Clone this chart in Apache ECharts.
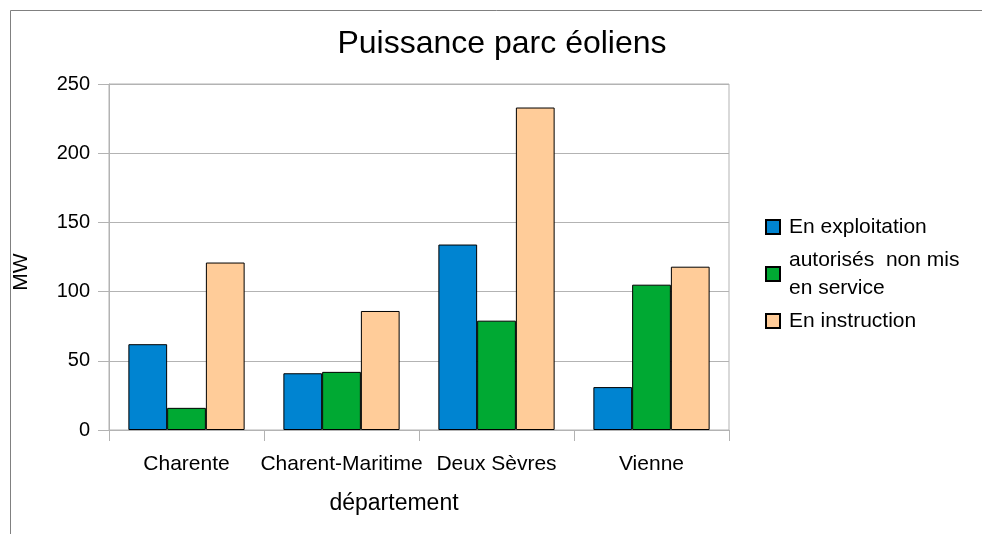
<!DOCTYPE html>
<html>
<head>
<meta charset="utf-8">
<script src="https://cdn.jsdelivr.net/npm/echarts@6/dist/echarts.min.js"></script>
<style>
html,body{margin:0;padding:0;background:#fff;}
#c{width:982px;height:534px;}
</style>
</head>
<body>
<div id="c"></div>
<script>
const categories = ['Charente', 'Charent-Maritime', 'Deux Sèvres', 'Vienne'];
const seriesNames = ['En exploitation', 'autorisés  non mis\nen service', 'En instruction'];
const exploitation = [62, 41, 134, 31];
const autorises = [16, 42, 79, 105];
const instruction = [121, 86, 233, 118];
const yTicks = [0, 50, 100, 150, 200, 250];
const colors = ['#0084d1', '#00a933', '#ffcc99'];

const FONT = '"Liberation Sans", Arial, sans-serif';
const chart = echarts.init(document.getElementById('c'));
const values = [exploitation, autorises, instruction];

chart.setOption({
  animation: false,
  backgroundColor: '#fff',
  textStyle: { fontFamily: FONT, color: '#000' },
  title: {
    text: 'Puissance parc éoliens',
    left: 497,
    textAlign: 'center',
    top: 23,
    textStyle: { fontFamily: FONT, fontSize: 32, fontWeight: 'normal', color: '#000' }
  },
  legend: {
    orient: 'vertical',
    left: 760,
    top: 208,
    itemWidth: 14,
    itemHeight: 14,
    itemGap: 5,
    icon: 'rect',
    textStyle: { fontFamily: FONT, fontSize: 21, color: '#000', lineHeight: 28, padding: [0, 0, 0, 4] },
    data: seriesNames
  },
  grid: {
    left: 109, right: 253, top: 84, bottom: 104,
    show: true, borderColor: '#b3b3b3', borderWidth: 1
  },
  xAxis: {
    type: 'category',
    data: categories,
    name: 'département',
    nameLocation: 'middle',
    nameGap: 62,
    nameTextStyle: { fontFamily: FONT, fontSize: 23, color: '#000', padding: [0, 50, 0, 0] },
    axisLine: { lineStyle: { color: '#b3b3b3' } },
    axisTick: { show: true, length: 11, lineStyle: { color: '#b3b3b3' } },
    axisLabel: { fontFamily: FONT, fontSize: 21, color: '#000', margin: 24, interval: 0 }
  },
  yAxis: {
    type: 'value',
    min: yTicks[0],
    max: yTicks[yTicks.length - 1],
    interval: 50,
    name: 'MW',
    nameLocation: 'middle',
    nameGap: 77,
    nameRotate: 90,
    nameTextStyle: { fontFamily: FONT, fontSize: 21, color: '#000', padding: [0, 30, 0, 0] },
    axisLine: { show: true, lineStyle: { color: '#b3b3b3' } },
    axisTick: { show: true, length: 11, lineStyle: { color: '#b3b3b3' } },
    axisLabel: { fontFamily: FONT, fontSize: 20, color: '#000', margin: 19 },
    splitLine: { lineStyle: { color: '#b3b3b3' } }
  },
  series: seriesNames.map((n, i) => ({
    name: n,
    type: 'bar',
    data: values[i],
    barGap: '0%',
    barCategoryGap: '25%',
    itemStyle: { color: colors[i], borderColor: '#000', borderWidth: 1 }
  })),
  graphic: [
    { type: 'line', shape: { x1: 10.5, y1: 10.5, x2: 982, y2: 10.5 }, style: { stroke: '#808080', lineWidth: 1 } },
    { type: 'line', shape: { x1: 10.5, y1: 10.5, x2: 10.5, y2: 534 }, style: { stroke: '#808080', lineWidth: 1 } }
  ]
});
</script>
</body>
</html>
